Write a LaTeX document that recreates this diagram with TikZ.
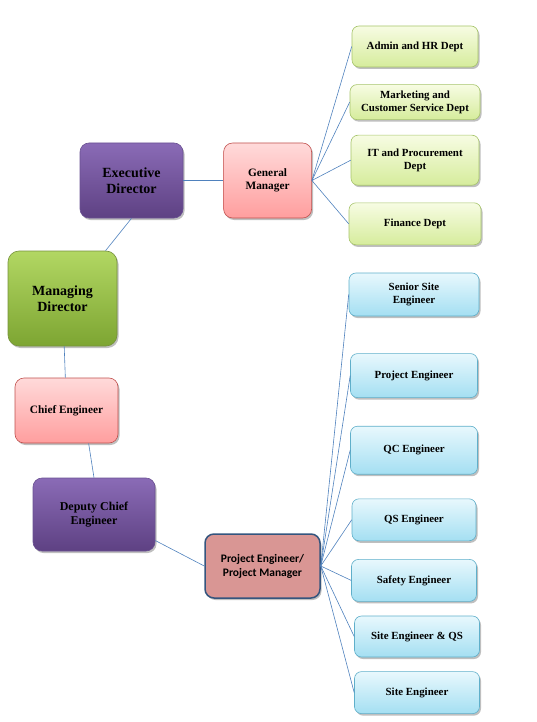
\documentclass[tikz,border=0pt]{standalone}
\usepackage{fontspec}
\setmainfont{Liberation Serif}
\newfontfamily\calibri{Carlito}
\usetikzlibrary{positioning, shadows}

\definecolor{linkblue}{HTML}{4F81BD}
\definecolor{purpleA}{HTML}{8A6BB6}
\definecolor{purpleB}{HTML}{5E4183}
\definecolor{purpleC}{HTML}{6A5192}
\definecolor{pinkA}{HTML}{FFDADA}
\definecolor{pinkB}{HTML}{FF9E9E}
\definecolor{pinkC}{HTML}{C0504D}
\definecolor{greenA}{HTML}{B2D763}
\definecolor{greenB}{HTML}{7DA532}
\definecolor{greenC}{HTML}{76923C}
\definecolor{limeA}{HTML}{F7FCE3}
\definecolor{limeB}{HTML}{D6EC9C}
\definecolor{limeC}{HTML}{A6C46A}
\definecolor{cyanA}{HTML}{E8F8FD}
\definecolor{cyanB}{HTML}{A4DFF2}
\definecolor{cyanC}{HTML}{5FAFCA}
\definecolor{pmred}{HTML}{D99694}
\definecolor{pmedge}{HTML}{34557E}

\begin{document}
\begin{tikzpicture}[x=1pt, y=-1pt,
	box/.style={rectangle, rounded corners=9pt, inner sep=0pt, align=center, line width=0.6pt,
		font=\fontsize{11.3}{13}\selectfont\bfseries,
		drop shadow={shadow xshift=1.5pt, shadow yshift=-2pt, opacity=0.25, fill=black}},
	bigtext/.style={font=\fontsize{14}{16}\selectfont\bfseries},
	purplebox/.style={box, top color=purpleA, bottom color=purpleB, draw=purpleC},
	pinkbox/.style={box, top color=pinkA, bottom color=pinkB, draw=pinkC},
	greenbox/.style={box, top color=greenA, bottom color=greenB, draw=greenC},
	deptbox/.style={box, rounded corners=7pt, top color=limeA, bottom color=limeB, draw=limeC,
		font=\fontsize{10.9}{12.6}\selectfont\bfseries},
	staffbox/.style={box, rounded corners=7pt, top color=cyanA, bottom color=cyanB, draw=cyanC,
		font=\fontsize{10.9}{12.6}\selectfont\bfseries},
	link/.style={draw=linkblue, line width=0.6pt}
]
	\useasboundingbox (0,0) rectangle (536,722);

	\node (exec) [purplebox, bigtext, minimum width=103pt, minimum height=75pt] at (131.5,180.5) {Executive\\Director};
	\node (gm) [pinkbox, minimum width=88pt, minimum height=75pt, right=40pt of exec] {General\\Manager};
	\node (md) [greenbox, bigtext, rounded corners=11pt, minimum width=109pt, minimum height=95pt] at (62.5,298.5) {Managing\\Director};
	\node (chief) [pinkbox, minimum width=103pt, minimum height=65pt] at (66.5,410.5) {Chief Engineer};
	\node (deputy) [purplebox, font=\fontsize{12}{14}\selectfont\bfseries, minimum width=122pt, minimum height=73pt] at (94,514.5) {Deputy Chief\\Engineer};
	\node (pm) [box, fill=pmred, draw=pmedge, line width=1.5pt, font=\calibri\fontsize{11.5}{14}\selectfont\bfseries,
		minimum width=115pt, minimum height=64pt] at (262.5,566) {Project Engineer/\\Project Manager};

	\node (admin) [deptbox, minimum width=126pt, minimum height=41pt] at (415,46.5) {Admin and HR Dept};
	\node (mkt) [deptbox, minimum width=130pt, minimum height=35pt, below=17pt of admin] {Marketing and\\Customer Service Dept};
	\node (it) [deptbox, minimum width=128pt, minimum height=50pt, below=15pt of mkt] {IT and Procurement\\Dept};
	\node (fin) [deptbox, minimum width=132pt, minimum height=42pt, below=17pt of it] {Finance Dept};

	\node (senior) [staffbox, minimum width=130pt, minimum height=43pt] at (414,294.5) {Senior Site\\Engineer};
	\node (pe) [staffbox, minimum width=127pt, minimum height=44pt, below=37pt of senior] {Project Engineer};
	\node (qc) [staffbox, minimum width=127pt, minimum height=48pt, below=28pt of pe] {QC Engineer};
	\node (qs) [staffbox, minimum width=124pt, minimum height=42pt, below=24pt of qc] {QS Engineer};
	\node (safety) [staffbox, minimum width=125pt, minimum height=42pt, below=18pt of qs] {Safety Engineer};
	\node (seqs) [staffbox, minimum width=125pt, minimum height=41pt, below=14pt of safety, xshift=3pt] {Site Engineer \& QS};
	\node (se) [staffbox, minimum width=125pt, minimum height=42pt, below=14pt of seqs] {Site Engineer};

	\path [link]
		(exec.south) edge (md.48)
		(exec) edge (gm)
		(md) edge (chief)
		(chief.-56) edge (deputy.north)
		(deputy.-23) edge (pm.west)
		(gm.east) edge (admin.west)
		(gm.east) edge (mkt.west)
		(gm.east) edge (it.west)
		(gm.east) edge (fin.west)
		(pm.east) edge (senior.west)
		(pm.east) edge (pe.west)
		(pm.east) edge (qc.west)
		(pm.east) edge (qs.west)
		(pm.east) edge (safety.west)
		(pm.east) edge (seqs.west)
		(pm.east) edge (se.west)
	;
\end{tikzpicture}
\end{document}
